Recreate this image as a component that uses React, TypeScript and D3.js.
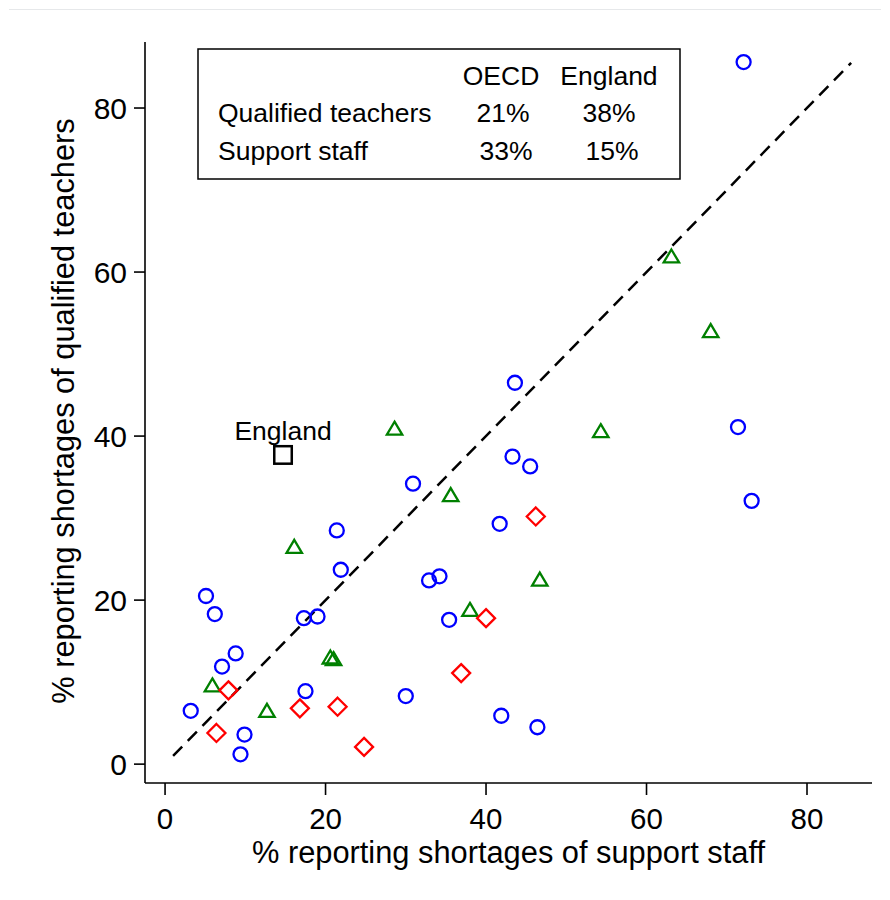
import * as d3 from 'd3';

// % of schools reporting shortages: [support staff, qualified teachers]
const circleCountries: [number, number][] = [
  [72.1, 85.6], [43.6, 46.5], [43.3, 37.5], [45.5, 36.3], [71.4, 41.1], [73.1, 32.1],
  [30.9, 34.2], [21.4, 28.5], [41.7, 29.3], [21.9, 23.7], [32.9, 22.4], [34.2, 22.9],
  [5.1, 20.5], [6.2, 18.3], [17.3, 17.8], [19.0, 18.0], [35.4, 17.6], [8.8, 13.5],
  [7.1, 11.9], [17.5, 8.9], [30.0, 8.3], [3.2, 6.5], [41.9, 5.9], [46.4, 4.5],
  [9.9, 3.6], [9.4, 1.2],
];
const triangleCountries: [number, number][] = [
  [63.1, 61.9], [68.0, 52.8], [28.6, 40.9], [54.3, 40.6], [35.6, 32.8], [16.1, 26.5],
  [46.7, 22.5], [38.0, 18.8], [20.6, 13.0], [21.0, 12.8], [5.9, 9.6], [12.7, 6.5],
];
const diamondCountries: [number, number][] = [
  [46.2, 30.2], [40.0, 17.8], [36.9, 11.1], [7.9, 9.0], [16.8, 6.8], [21.5, 7.0],
  [6.4, 3.8], [24.8, 2.1],
];
const england: [number, number] = [14.7, 37.7];
const diagonal = [1, 85.5];

const xTicks = [0, 20, 40, 60, 80];
const yTicks = [0, 20, 40, 60, 80];

const legendCols = ['OECD', 'England'];
const legendRows = ['Qualified teachers', 'Support staff'];
const legendValues = [
  ['21%', '38%'],
  ['33%', '15%'],
];

const FONT = "Arial, 'Liberation Sans', Helvetica, sans-serif";

export default function App() {
  const left = 145;
  const right = 872;
  const top = 42;
  const bottom = 783;

  const x = d3.scaleLinear().domain([-2.5, 88.1]).range([left, right]);
  const y = d3.scaleLinear().domain([-2.3, 88.05]).range([bottom, top]);

  const tri = 'M0,-7L7.7,6L-7.7,6Z';
  const dia = 'M0,-9L9,0L0,9L-9,0Z';

  return (
    <svg
      width={890}
      height={900}
      style={{ position: 'absolute', left: 0, top: 0, background: '#fff' }}
      fontFamily={FONT}
    >
      <line x1={9} x2={881} y1={9.5} y2={9.5} stroke="#e6e8ea" strokeWidth={1} />

      {/* axes */}
      <line x1={left} x2={left} y1={top} y2={bottom} stroke="#000" strokeWidth={1.6} />
      <line x1={left} x2={right} y1={bottom} y2={bottom} stroke="#000" strokeWidth={1.6} />
      {xTicks.map((t) => (
        <g key={'x' + t}>
          <line x1={x(t)} x2={x(t)} y1={bottom} y2={bottom + 12} stroke="#000" strokeWidth={1.6} />
          <text x={x(t)} y={829} fontSize={29.5} textAnchor="middle">
            {t}
          </text>
        </g>
      ))}
      {yTicks.map((t) => (
        <g key={'y' + t}>
          <line x1={left - 11} x2={left} y1={y(t)} y2={y(t)} stroke="#000" strokeWidth={1.6} />
          <text x={127} y={y(t) + 11} fontSize={30} textAnchor="end">
            {t}
          </text>
        </g>
      ))}
      <text x={(left + right) / 2} y={863} fontSize={30.8} textAnchor="middle">
        % reporting shortages of support staff
      </text>
      <text transform="translate(74, 411) rotate(-90)" fontSize={30.8} textAnchor="middle">
        % reporting shortages of qualified teachers
      </text>

      {/* 45-degree reference line */}
      <line
        x1={x(diagonal[0])}
        y1={y(diagonal[0])}
        x2={x(diagonal[1])}
        y2={y(diagonal[1])}
        stroke="#000"
        strokeWidth={2.5}
        strokeDasharray="13 8"
      />

      {circleCountries.map((d, i) => (
        <circle key={'c' + i} cx={x(d[0])} cy={y(d[1])} r={7} fill="none" stroke="#0000ff" strokeWidth={2.3} />
      ))}
      {triangleCountries.map((d, i) => (
        <path
          key={'t' + i}
          d={tri}
          transform={`translate(${x(d[0])},${y(d[1])})`}
          fill="none"
          stroke="#008000"
          strokeWidth={2.3}
        />
      ))}
      {diamondCountries.map((d, i) => (
        <path
          key={'d' + i}
          d={dia}
          transform={`translate(${x(d[0])},${y(d[1])})`}
          fill="none"
          stroke="#ff0000"
          strokeWidth={2.3}
        />
      ))}
      <rect
        x={x(england[0]) - 8.75}
        y={y(england[1]) - 8.75}
        width={17.5}
        height={17.5}
        fill="none"
        stroke="#000"
        strokeWidth={2.5}
      />
      <text x={x(england[0])} y={y(england[1]) - 15} fontSize={26.5} textAnchor="middle">
        England
      </text>

      {/* summary box */}
      <rect x={198} y={49} width={482} height={130} fill="#fff" stroke="#000" strokeWidth={1.5} />
      {legendCols.map((c, j) => (
        <text key={c} x={[501, 609][j]} y={85} fontSize={26.5} textAnchor="middle">
          {c}
        </text>
      ))}
      {legendRows.map((r, i) => (
        <g key={r}>
          <text x={218} y={122 + i * 38} fontSize={26.5}>
            {r}
          </text>
          {legendValues[i].map((v, j) => (
            <text key={j} x={[503 + i * 3, 609 + i * 3][j]} y={122 + i * 38} fontSize={26.5} textAnchor="middle">
              {v}
            </text>
          ))}
        </g>
      ))}
    </svg>
  );
}
